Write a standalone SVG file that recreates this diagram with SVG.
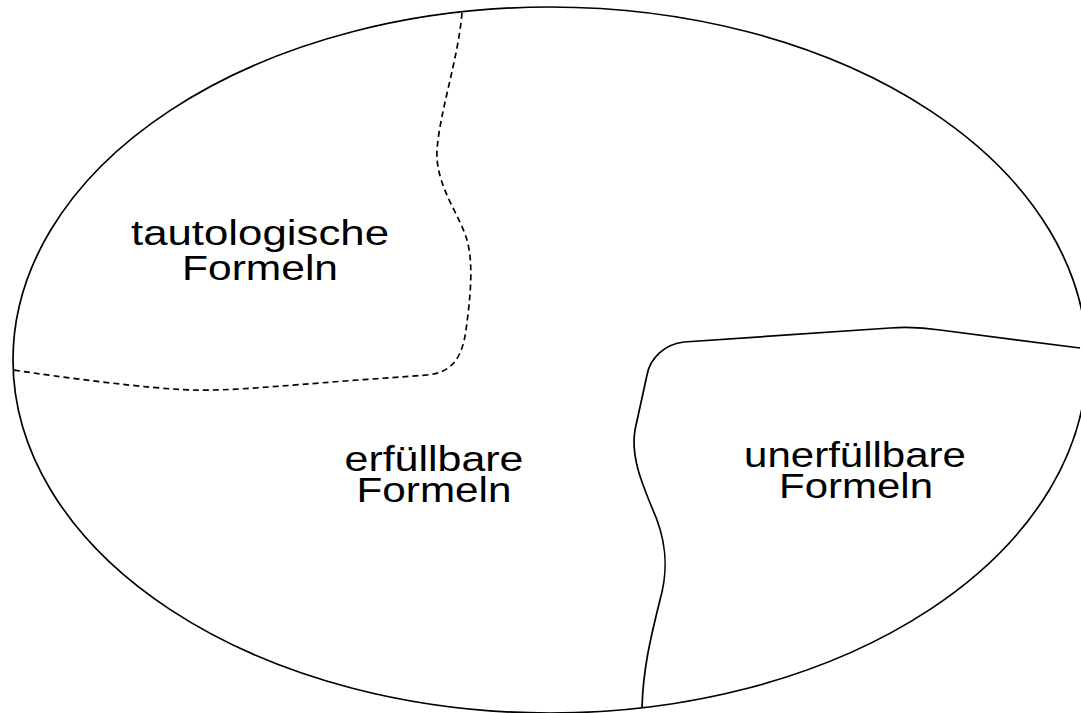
<svg xmlns="http://www.w3.org/2000/svg" width="1081" height="713" viewBox="0 0 1081 713">
<style>
.b{fill:none;stroke:#000;stroke-width:1.7}
.d{fill:none;stroke:#000;stroke-width:1.7;stroke-dasharray:6 4}
text{font-family:"Liberation Sans",Arial,sans-serif;font-size:35px;fill:#000;text-anchor:middle}
</style>
<rect width="1081" height="713" fill="#fff"/>
<g id="outer"><ellipse class="b" cx="550" cy="360" rx="537" ry="353"/></g>
<g id="connectors">
<path class="d" d="M462,13 C458,60 440,110 437,150 C435,185 460,215 467,240 C474,265 470,300 466,330 C462,360 450,373 427,375 L345,381 C280,386 230,391 193,390 C150,389 60,377 13,370"/>
<path class="b" d="M1080,348 L940,330 C920,327 905,327 890,328 L684,342 C665,344 650,358 647,375 L635,430 C630,460 645,490 657,520 C668,550 667,575 660,600 C650,640 643,670 642,708"/>
</g>
<g id="tautologische">
<text x="260" y="245" textLength="258" lengthAdjust="spacingAndGlyphs">tautologische</text>
<text x="260" y="280" textLength="156" lengthAdjust="spacingAndGlyphs">Formeln</text>
</g>
<g id="erfuellbare">
<text x="434" y="471" textLength="179" lengthAdjust="spacingAndGlyphs">erfüllbare</text>
<text x="434" y="502" textLength="155" lengthAdjust="spacingAndGlyphs">Formeln</text>
</g>
<g id="unerfuellbare">
<text x="855" y="467" textLength="222" lengthAdjust="spacingAndGlyphs">unerfüllbare</text>
<text x="856" y="498" textLength="154" lengthAdjust="spacingAndGlyphs">Formeln</text>
</g>
</svg>
